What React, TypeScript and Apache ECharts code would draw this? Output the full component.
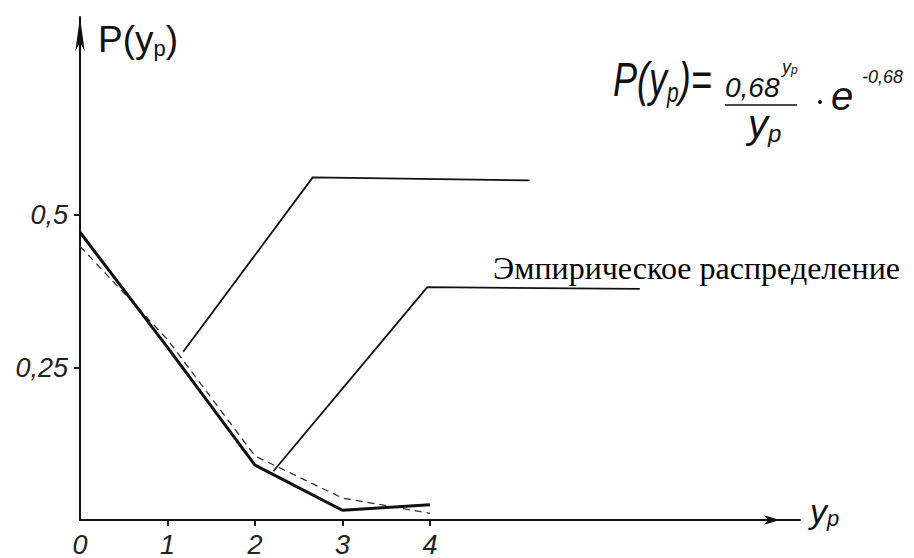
import React, { useEffect, useRef } from "react";
import * as echarts from "echarts";

// Data
const xValues = [0, 1, 2, 3, 4];
const empirical = [0.472, 0.283, 0.09, 0.016, 0.025];
const theoretical = [0.449, 0.296, 0.105, 0.036, 0.011];
const xTickValues = [1, 2, 3, 4];
const xLabelValues = [0, 1, 2, 3, 4];
const yTickValues = [0.25, 0.5];
// leader (callout) lines, in data coordinates
const leaderUpperX = [1.18, 2.66, 5.14];
const leaderUpperY = [0.276, 0.562, 0.557];
const leaderLowerX = [2.21, 3.97, 6.4];
const leaderLowerY = [0.08, 0.382, 0.379];
const labelText = "Эмпирическое распределение";

const hand = "'Liberation Sans', 'DejaVu Sans', sans-serif";

export default function App() {
  const ref = useRef<HTMLDivElement>(null);
  useEffect(() => {
    document.body.style.margin = "0";
    const chart = echarts.init(ref.current!, null, { renderer: "svg" });
    const pairs = (xs: number[], ys: number[]) => xs.map((x, i) => [x, ys[i]]);
    chart.setOption({
      animation: false,
      backgroundColor: "#ffffff",
      grid: { left: 80, right: 114, top: 17, bottom: 36, containLabel: false },
      xAxis: {
        type: "value",
        min: 0,
        max: 8.23,
        name: "y{s|p}",
        nameLocation: "end",
        nameGap: 10,
        nameTextStyle: {
          fontFamily: hand,
          fontStyle: "italic",
          fontSize: 34,
          color: "#111",
          verticalAlign: "middle",
          padding: [0, 0, 18, 0],
          rich: { s: { fontFamily: hand, fontStyle: "italic", fontSize: 22, color: "#111", padding: [14, 0, 0, 0] } },
        },
        axisLine: {
          show: true,
          onZero: false,
          symbol: ["none", "arrow"],
          symbolSize: [7, 16],
          symbolOffset: [0, -20],
          lineStyle: { color: "#111", width: 2 },
        },
        axisTick: { show: true, customValues: xTickValues, length: 6, lineStyle: { color: "#111", width: 2 } },
        axisLabel: {
          customValues: xLabelValues,
          formatter: (v: number) => String(v),
          fontFamily: hand,
          fontStyle: "italic",
          fontSize: 27,
          color: "#222",
          margin: 11,
        },
        splitLine: { show: false },
      },
      yAxis: {
        type: "value",
        min: 0,
        max: 0.825,
        name: "P(y{s|p})",
        nameLocation: "end",
        nameGap: -22,
        nameTextStyle: {
          fontFamily: hand,
          fontSize: 37,
          color: "#111",
          align: "left",
          verticalAlign: "middle",
          padding: [0, 0, 0, 18],
          rich: { s: { fontFamily: hand, fontSize: 22, color: "#111", padding: [18, 0, 0, 0] } },
        },
        axisLine: {
          show: true,
          onZero: false,
          symbol: ["none", "arrow"],
          symbolSize: [7, 34],
          lineStyle: { color: "#111", width: 2 },
        },
        axisTick: { show: true, customValues: yTickValues, length: 6, lineStyle: { color: "#111", width: 2 } },
        axisLabel: {
          customValues: yTickValues,
          formatter: (v: number) => String(v).replace(".", ","),
          fontFamily: hand,
          fontStyle: "italic",
          fontSize: 27,
          color: "#222",
          margin: 12,
          verticalAlign: "middle",
          padding: [0, 0, 20, 0],
        },
        splitLine: { show: false },
      },
      series: [
        {
          type: "line",
          data: pairs(xValues, theoretical),
          symbol: "none",
          lineStyle: { color: "#333", width: 1.3, type: [7, 5] },
          z: 2,
        },
        {
          type: "line",
          data: pairs(xValues, empirical),
          symbol: "none",
          lineStyle: { color: "#111", width: 3 },
          z: 3,
        },
        {
          type: "line",
          data: pairs(leaderUpperX, leaderUpperY),
          symbol: "none",
          lineStyle: { color: "#111", width: 1.8 },
        },
        {
          type: "line",
          data: pairs(leaderLowerX, leaderLowerY),
          symbol: "none",
          lineStyle: { color: "#111", width: 1.8 },
        },
      ],
      graphic: [
        {
          type: "text",
          x: 493,
          y: 268,
          style: {
            text: labelText,
            fontFamily: "'Liberation Serif', 'Times New Roman', serif",
            fontSize: 32,
            fill: "#000",
            verticalAlign: "middle",
          },
        },
        {
          type: "group",
          children: [
            {
              type: "text",
              x: 613,
              y: 80,
              scaleX: 0.75,
              style: {
                text: "P(y{s|p})=",
                fontFamily: hand,
                fontStyle: "italic",
                fontSize: 48,
                fill: "#111",
                verticalAlign: "middle",
                rich: { s: { fontFamily: hand, fontStyle: "italic", fontSize: 28, fill: "#111", padding: [24, 0, 0, 0] } },
              },
            },
            {
              type: "text",
              x: 725,
              y: 87,
              style: { text: "0,68", fontFamily: hand, fontStyle: "italic", fontSize: 28, fill: "#111", verticalAlign: "middle" },
            },
            {
              type: "text",
              x: 782,
              y: 67,
              style: { text: "y{s|p}", fontFamily: hand, fontStyle: "italic", fontSize: 18, fill: "#111", verticalAlign: "middle", rich: { s: { fontFamily: hand, fontStyle: "italic", fontSize: 12, fill: "#111", padding: [6, 0, 0, 0] } } },
            },
            { type: "line", shape: { x1: 725, y1: 105, x2: 797, y2: 105 }, style: { stroke: "#111", lineWidth: 1.3 } },
            {
              type: "text",
              x: 748,
              y: 124,
              style: { text: "y{s|p}", fontFamily: hand, fontStyle: "italic", fontSize: 40, fill: "#111", verticalAlign: "middle", rich: { s: { fontFamily: hand, fontStyle: "italic", fontSize: 24, fill: "#111", padding: [18, 0, 0, 0] } } },
            },
            { type: "circle", shape: { cx: 820, cy: 102, r: 2 }, style: { fill: "#111" } },
            {
              type: "text",
              x: 831,
              y: 96,
              style: { text: "e", fontFamily: hand, fontStyle: "italic", fontSize: 40, fill: "#111", verticalAlign: "middle" },
            },
            {
              type: "text",
              x: 862,
              y: 77,
              style: { text: "-0,68", fontFamily: hand, fontStyle: "italic", fontSize: 18, fill: "#111", verticalAlign: "middle" },
            },
          ],
        },
      ],
    });
    return () => chart.dispose();
  }, []);
  return <div ref={ref} style={{ position: "fixed", left: 0, top: 0, width: 914, height: 558 }} />;
}
